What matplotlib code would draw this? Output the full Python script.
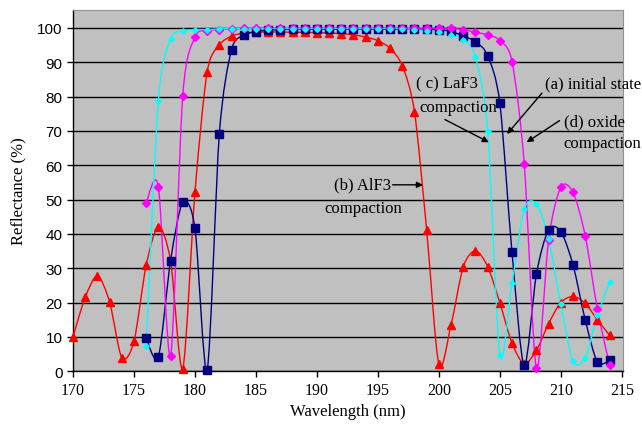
import numpy as np
import matplotlib
matplotlib.use("Agg")
import matplotlib.pyplot as plt
from matplotlib.path import Path
from matplotlib.patches import PathPatch

# wavelength grids (nm)
wl_b = list(range(170, 215))
wl_acd = list(range(176, 215))

# (b) AlF3 compaction - red triangles
refl_b = [10.0, 21.5, 27.8, 20.2, 4.0, 8.7, 30.9, 42.1, 32.2, 0.8,
          52.1, 87.1, 95.0, 97.6, 98.5, 98.7, 98.8, 98.8, 98.7, 98.7,
          98.6, 98.5, 98.3, 98.0, 97.3, 96.3, 94.0, 89.0, 75.6, 41.1,
          2.0, 13.5, 30.4, 35.1, 30.5, 20.0, 8.2, 2.2, 6.1, 13.9,
          20.0, 21.8, 19.8, 15.0, 10.5]

# (a) initial state - navy squares
refl_a = [9.6, 4.2, 32.2, 49.2, 41.7, 0.4, 69.1, 93.6, 97.8, 98.9,
          99.3, 99.5, 99.6, 99.6, 99.6, 99.6, 99.6, 99.6, 99.6, 99.6,
          99.6, 99.6, 99.6, 99.6, 99.4, 99.0, 97.6, 96.0, 91.9, 78.1,
          34.6, 1.7, 28.3, 41.2, 40.7, 31.0, 15.0, 2.7, 3.2]

# (d) oxide compaction - magenta diamonds
refl_d = [49.0, 53.7, 4.5, 80.3, 97.3, 99.2, 99.5, 99.8, 99.9, 99.9,
          99.9, 99.9, 99.9, 99.9, 99.9, 99.9, 99.9, 99.9, 99.9, 99.9,
          99.9, 99.9, 99.9, 99.9, 99.9, 99.9, 99.5, 98.7, 98.0, 96.3,
          90.2, 60.5, 0.9, 38.3, 53.6, 52.1, 39.5, 18.1, 1.7]

# (c) LaF3 compaction - cyan small diamonds
refl_c = [7.4, 78.8, 96.8, 99.0, 99.5, 99.5, 99.7, 99.8, 99.8, 99.8,
          99.8, 99.8, 99.8, 99.8, 99.8, 99.8, 99.8, 99.8, 99.8, 99.8,
          99.8, 99.8, 99.5, 99.2, 98.7, 98.0, 96.6, 91.5, 69.9, 4.8,
          25.7, 47.2, 48.7, 38.5, 19.5, 3.0, 4.0, 16.3, 25.9]


def smooth_path(x, y, k=7.0):
    # Excel-like smoothed line: Catmull-Rom style cubic Bezier segments
    x = np.asarray(x, float)
    y = np.asarray(y, float)
    n = len(x)
    verts = [(x[0], y[0])]
    codes = [Path.MOVETO]
    for i in range(n - 1):
        i0 = max(i - 1, 0)
        i3 = min(i + 2, n - 1)
        c1 = (x[i] + (x[i + 1] - x[i0]) / k, y[i] + (y[i + 1] - y[i0]) / k)
        c2 = (x[i + 1] - (x[i3] - x[i]) / k, y[i + 1] - (y[i3] - y[i]) / k)
        verts += [c1, c2, (x[i + 1], y[i + 1])]
        codes += [Path.CURVE4] * 3
    return Path(verts, codes)


fig = plt.figure(figsize=(6.42, 4.27), dpi=100)
ax = fig.add_axes([0.1137, 0.1281, 0.8567, 0.8469])
ax.set_facecolor("#c0c0c0")

series = [
    (wl_b, refl_b, "#ff0000", "^", 6.3),
    (wl_acd, refl_a, "#000080", "s", 5.6),
    (wl_acd, refl_d, "#ff00ff", "D", 3.6),
    (wl_acd, refl_c, "#00ffff", "D", 2.8),
]
for x, y, col, mk, ms in series:
    ax.add_patch(PathPatch(smooth_path(x, y), fill=False, edgecolor=col,
                           lw=1.0, zorder=3))
    ax.plot(x, y, linestyle="none", marker=mk, ms=ms, color=col,
            markeredgecolor=col, zorder=4, clip_on=False)

ax.set_xlim(170, 215.1)
ax.set_ylim(0, 105.3)
ax.set_xticks(range(170, 216, 5))
ax.set_yticks(range(0, 101, 10))
ax.yaxis.grid(True, color="black", lw=1.0)
ax.set_axisbelow(True)

for s in ["top", "right"]:
    ax.spines[s].set_color("#909090")
    ax.spines[s].set_linewidth(0.8)
for s in ["left", "bottom"]:
    ax.spines[s].set_color("black")
    ax.spines[s].set_linewidth(1.0)

ax.tick_params(axis="both", direction="out", length=4, width=1.0, color="black")
for lab in ax.get_yticklabels():
    lab.set_fontfamily("Liberation Sans")
    lab.set_fontsize(11)
for lab in ax.get_xticklabels():
    lab.set_fontfamily("Liberation Serif")
    lab.set_fontsize(11.5)

ax.set_xlabel("Wavelength (nm)", family="Liberation Serif", fontsize=12)
ax.set_ylabel("Reflectance (%)", family="Liberation Serif", fontsize=12,
              labelpad=8)

txt = dict(family="Liberation Serif", fontsize=12, va="center", clip_on=False)
arr = dict(arrowstyle="-|>", color="black", lw=1.0, mutation_scale=9,
           shrinkA=0, shrinkB=0)

ax.text(208.7, 83.7, "(a) initial state", ha="left", **txt)
ax.annotate("", xy=(205.6, 69.1), xytext=(208.45, 81.0), arrowprops=arr)

ax.text(210.25, 72.9, "(d) oxide", ha="left", **txt)
ax.text(210.25, 66.5, "compaction", ha="left", **txt)
ax.annotate("", xy=(207.2, 66.7), xytext=(209.9, 73.0), arrowprops=arr)

ax.text(198.1, 83.7, "( c) LaF3", ha="left", **txt)
ax.text(198.4, 77.0, "compaction", ha="left", **txt)
ax.annotate("", xy=(204.1, 66.7), xytext=(200.5, 73.3), arrowprops=arr)

ax.text(196.1, 54.3, "(b) AlF3", ha="right", **txt)
ax.text(193.8, 47.5, "compaction", ha="center", **txt)
ax.annotate("", xy=(198.7, 54.3), xytext=(196.2, 54.3), arrowprops=arr)

fig.savefig("out.png", dpi=100)
